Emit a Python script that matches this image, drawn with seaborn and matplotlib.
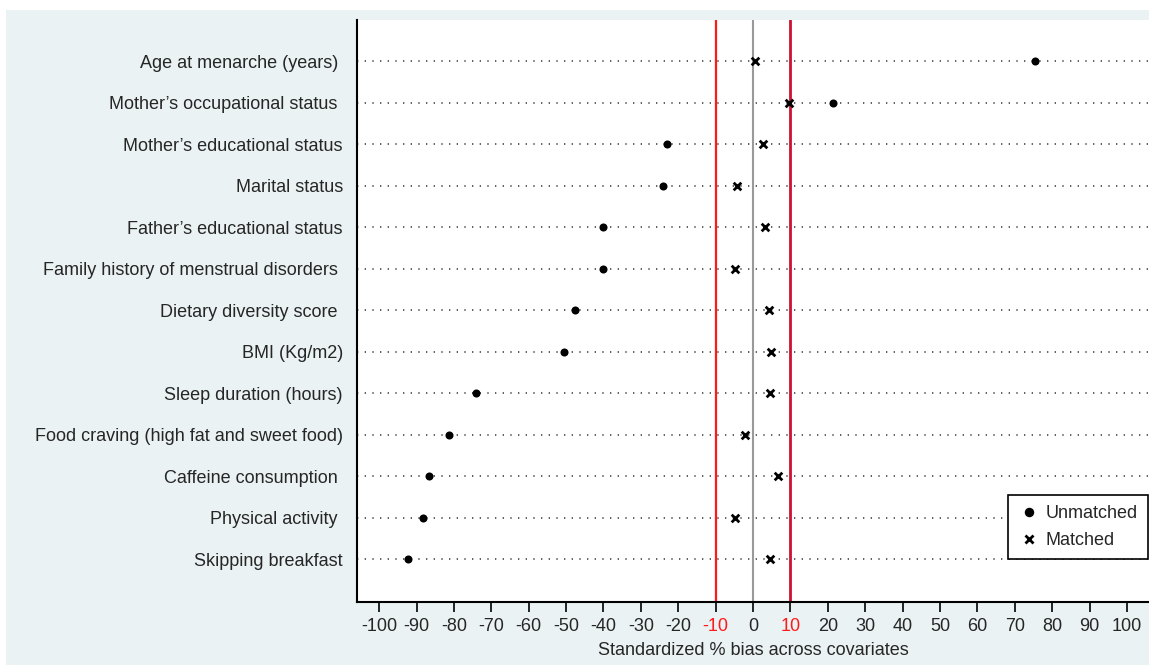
import matplotlib
matplotlib.use("Agg")
import matplotlib.pyplot as plt
import pandas as pd
import seaborn as sns
from matplotlib.lines import Line2D
from matplotlib.patches import Rectangle

covariates = ['Age at menarche (years) ', 'Mother\u2019s occupational status ',
              'Mother\u2019s educational status', 'Marital status',
              'Father\u2019s educational status', 'Family history of menstrual disorders ',
              'Dietary diversity score ', 'BMI (Kg/m2)', 'Sleep duration (hours)',
              'Food craving (high fat and sweet food)', 'Caffeine consumption ',
              'Physical activity ', 'Skipping breakfast']
unmatched = [75.4, 21.3, -23.0, -24.0, -40.1, -40.1, -47.7, -50.6, -74.0, -81.3, -86.7, -88.2, -92.2]
matched = [0.6, 9.7, 2.6, -4.3, 3.1, -4.8, 4.2, 4.7, 4.4, -2.1, 6.7, -4.7, 4.5]
xticks = list(range(-100, 101, 10))

df = pd.concat([
    pd.DataFrame({'covariate': covariates, 'bias': unmatched, 'sample': 'Unmatched'}),
    pd.DataFrame({'covariate': covariates, 'bias': matched, 'sample': 'Matched'}),
], ignore_index=True)

sns.set_style('white')
plt.rcParams['font.family'] = ['Liberation Sans', 'DejaVu Sans']
fs = 13.0

fig = plt.figure(figsize=(11.49, 6.65), dpi=100, facecolor='white')
fig.patches.append(Rectangle((6 / 1149, 0), 1, 655 / 665, transform=fig.transFigure,
                             facecolor='#eaf2f3', edgecolor='none', zorder=-10))
ax = fig.add_axes([356.7 / 1149, 1 - 602.3 / 665, 792.7 / 1149, 582.3 / 665])
ax.set_facecolor('white')

# dotted row guides
for i in range(len(covariates)):
    ax.axhline(i, color='#444444', lw=1.2, linestyle=(0, (0.8, 3.8)), zorder=1)

ax.axvline(0, color='#999999', lw=1.5, zorder=2)
ax.axvline(-10, color='#ff1a1a', lw=1.6, zorder=2)
ax.axvline(10, color='#cc1133', lw=2.0, zorder=2)

sns.stripplot(data=df[df['sample'] == 'Unmatched'], x='bias', y='covariate', order=covariates,
              jitter=False, color='black', marker='o', size=5.8, linewidth=0, ax=ax, zorder=3)
sns.stripplot(data=df[df['sample'] == 'Matched'], x='bias', y='covariate', order=covariates,
              jitter=False, color='black', marker='x', size=5.5, linewidth=2.0, ax=ax, zorder=3)

ax.set_xlim(-106, 106)
ax.set_ylim(len(covariates) - 1 + 1.04, -0.99)
ax.set_xticks(xticks)
ax.set_xticklabels([str(t) for t in xticks], fontsize=fs)
for lab in ax.get_xticklabels():
    if lab.get_text() in ('-10', '10'):
        lab.set_color('#ff1a1a')
ax.tick_params(axis='x', direction='out', length=7, width=1.2, color='black', pad=4, bottom=True)
ax.tick_params(axis='y', length=0, pad=10, labelsize=fs)
ax.set_xlabel('Standardized % bias across covariates', fontsize=fs, labelpad=5)
ax.set_ylabel('')

for side in ('top', 'right'):
    ax.spines[side].set_visible(False)
for side in ('left', 'bottom'):
    ax.spines[side].set_color('black')
    ax.spines[side].set_linewidth(1.5)

handles = [Line2D([], [], marker='o', color='black', linestyle='none', markersize=5.8),
           Line2D([], [], marker='x', color='black', linestyle='none', markersize=5.5, markeredgewidth=2.0)]
leg = fig.legend(handles, ['Unmatched', 'Matched'], loc='upper right',
                 bbox_to_anchor=(1148 / 1149, 1 - 495 / 665), fontsize=fs, frameon=True,
                 fancybox=False, edgecolor='black', framealpha=1, handletextpad=0.35,
                 handlelength=1.2, borderpad=0.55, labelspacing=0.55, borderaxespad=0)
leg.get_frame().set_linewidth(1.2)

plt.savefig('out.png', dpi=100)
